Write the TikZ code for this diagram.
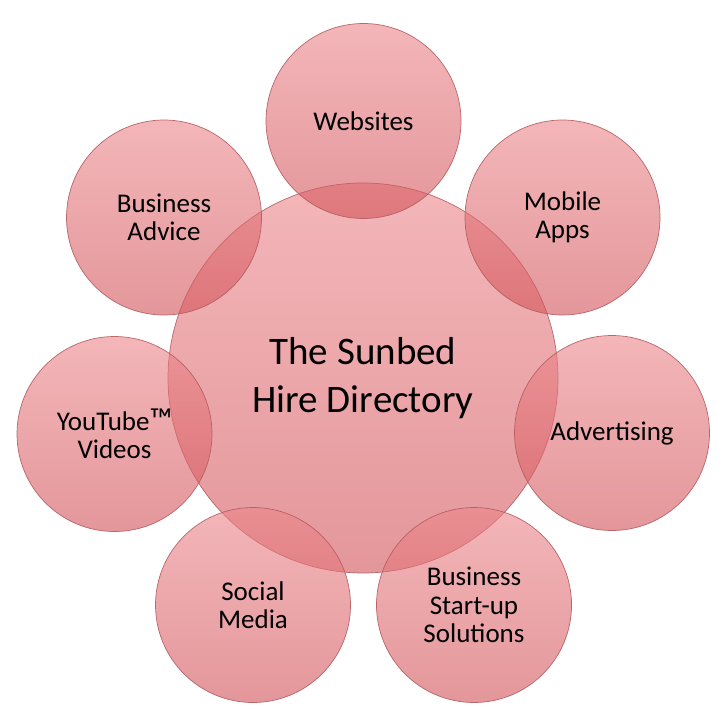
\documentclass[tikz,border=0pt]{standalone}
\usepackage{fontspec}
\setmainfont{Carlito}
\definecolor{bubtop}{RGB}{236,134,139}
\definecolor{bubbot}{RGB}{210,82,88}
\definecolor{bubedge}{RGB}{178,92,96}
\begin{document}
\begin{tikzpicture}[x=1pt,y=-1pt,
  bubble/.style={circle, draw=bubedge, line width=0.7pt, top color=bubtop, bottom color=bubbot, fill opacity=0.6, draw opacity=0.9, text opacity=1, align=center, inner sep=0pt},
  sat/.style={bubble, minimum size=195pt, font=\fontsize{27}{28.5}\selectfont},
  hub/.style={bubble, minimum size=390pt, font=\fontsize{39}{48}\selectfont}]
\useasboundingbox (0,0) rectangle (727,727);
\fill[white] (0,0) rectangle (727,727);
\node[hub] (c) at (363,378) {The Sunbed\\Hire Directory};
\node[sat] (w) at (363.5,121) {Websites};
\node[sat] (m) at (562.5,217.5) {Mobile\\Apps};
\node[sat] (a) at (612,433) {Advertising};
\node[sat] (b) at (474,605) {Business\\Start-up\\Solutions};
\node[sat] (s) at (253,605) {Social\\Media};
\node[sat] (y) at (114.5,434) {YouTube{\fontsize{32}{28.5}\selectfont ™}\\Videos};
\node[sat] (d) at (164,217.5) {Business\\Advice};
\end{tikzpicture}
\end{document}
